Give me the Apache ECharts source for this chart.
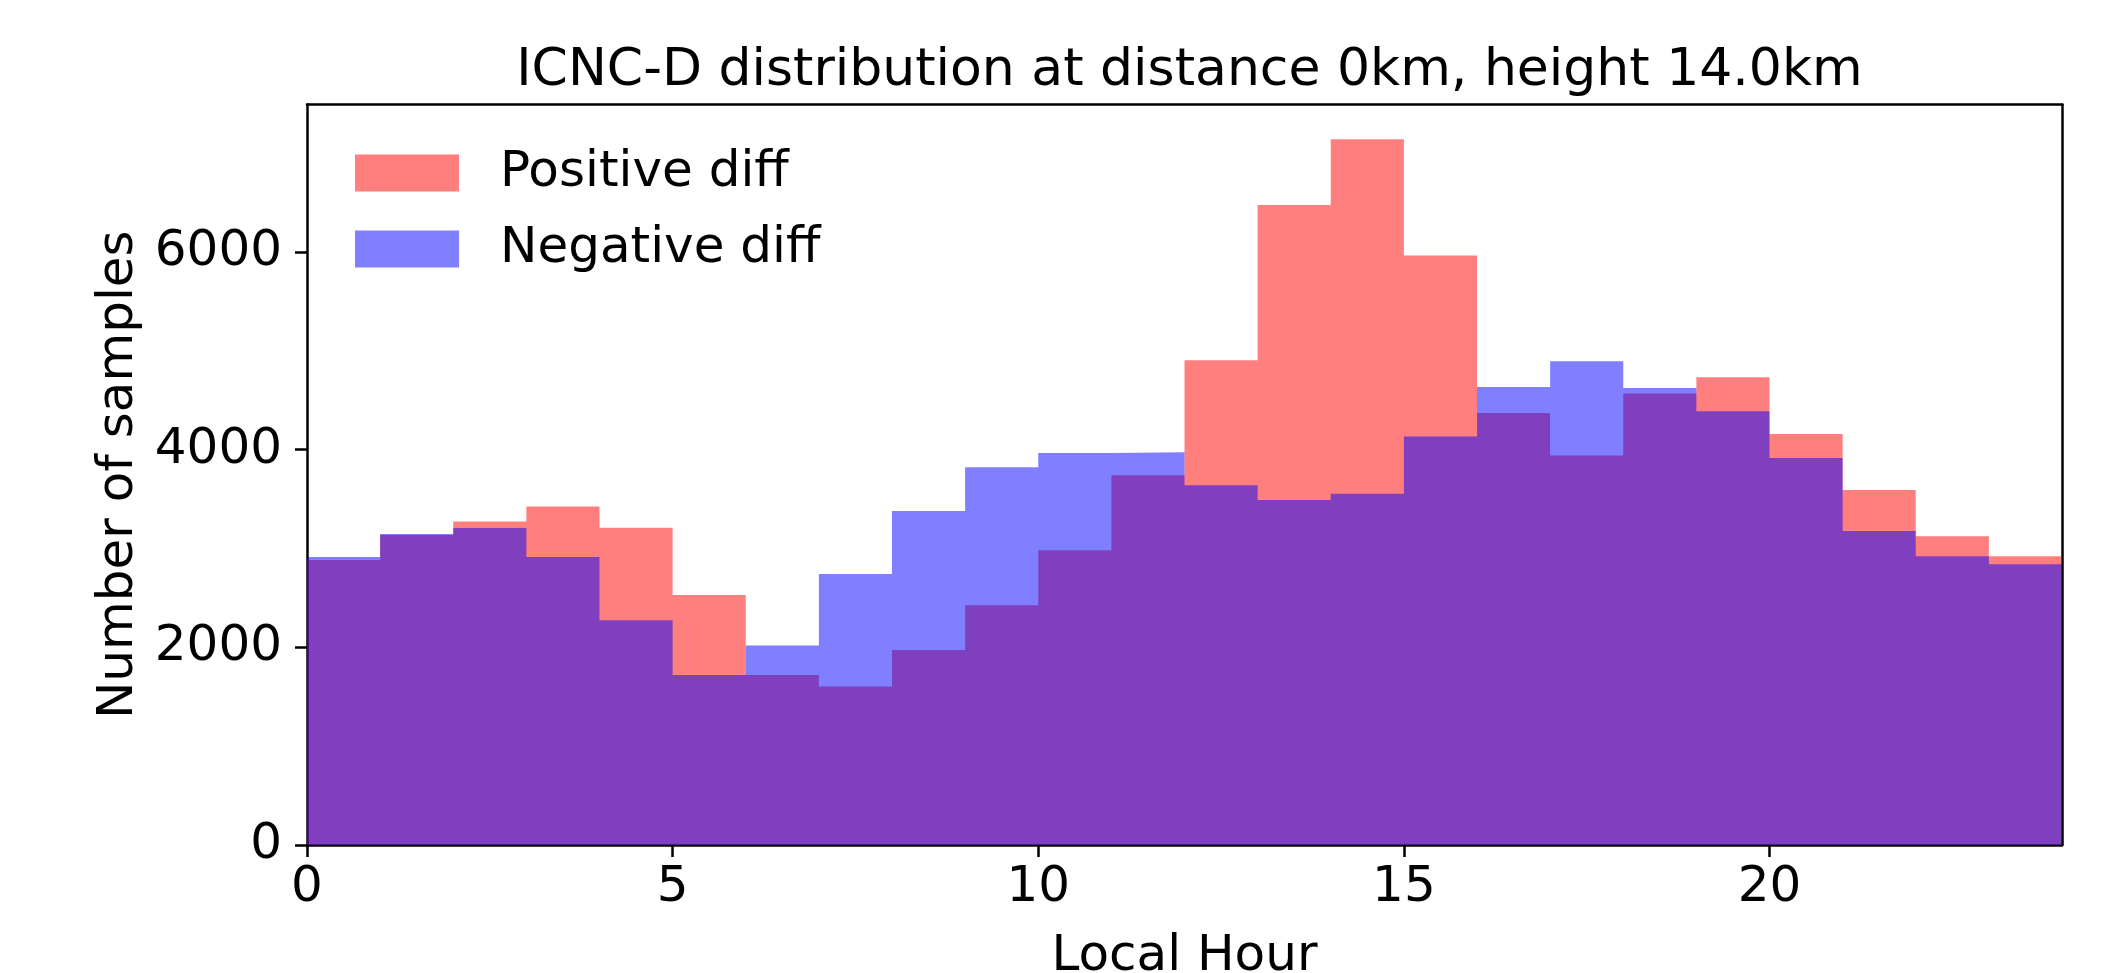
<!DOCTYPE html>
<html>
<head>
<meta charset="utf-8">
<script src="https://cdn.jsdelivr.net/npm/echarts@6/dist/echarts.min.js"></script>
<style>
    html, body { margin: 0; padding: 0; background: #fff; }
    #chart { width: 2102px; height: 973px; }
</style>
</head>
<body>
<div id="chart"></div>
<script>
// 直方图数据（按小时分箱）
const hourEdges = [0, 1, 2, 3, 4, 5, 6, 7, 8, 9, 10, 11, 12, 13, 14, 15, 16, 17, 18, 19, 20, 21, 22, 23, 24]
const positiveDiff = [2883, 3136, 3271, 3423, 3210, 2529, 1720, 1602, 1973, 2424, 2981, 3740, 4903, 6474, 7139, 5962, 4370, 3939, 4566, 4731, 4158, 3591, 3123, 2920]
const negativeDiff = [2913, 3146, 3207, 2913, 2273, 1720, 2017, 2741, 3379, 3821, 3966, 3973, 3639, 3490, 3554, 4131, 4633, 4893, 4623, 4387, 3915, 3176, 2920, 2840]
const xTicks = [0, 5, 10, 15, 20]
const yTicks = [0, 2000, 4000, 6000]

const FONT = 'DejaVu Sans'

// 把每个箱子的值变成阶梯线的点，最后一个边界沿用最后一个值
function steps(values) {
    return hourEdges.map((e, i) => [e, values[Math.min(i, values.length - 1)]])
}

function histChart() {
    const el = document.querySelector('#chart')
    const myChart = echarts.init(el)
    const borderAxis = {
        axisLine: { show: true, onZero: false, lineStyle: { color: '#000', width: 2.5 } },
        axisTick: { show: false },
        axisLabel: { show: false },
        splitLine: { show: false }
    }
    const option = {
        backgroundColor: '#fff',
        animation: false,
        title: {
            text: 'ICNC-D distribution at distance 0km, height 14.0km',
            left: 1184.5,
            textAlign: 'center',
            top: 40,
            textStyle: { fontFamily: FONT, fontSize: 52, fontWeight: 'normal', color: '#000' }
        },
        legend: {
            orient: 'vertical',
            left: 350,
            top: 143,
            icon: 'rect',
            itemWidth: 104,
            itemHeight: 37,
            itemGap: 26,
            textStyle: { fontFamily: FONT, fontSize: 50, color: '#000', lineHeight: 50, padding: [0, 0, 0, 36] },
            data: [
                { name: 'Positive diff', itemStyle: { color: 'rgba(255,0,0,0.5)' } },
                { name: 'Negative diff', itemStyle: { color: 'rgba(0,0,255,0.5)' } }
            ]
        },
        // 固定绘图区，不让 v6 自动收缩
        grid: { left: 307, right: 40, top: 104.5, bottom: 128, outerBoundsMode: 'none', containLabel: false },
        xAxis: [
            {
                type: 'value',
                min: 0,
                max: 24,
                name: 'Local Hour',
                nameLocation: 'middle',
                nameGap: 87,
                nameTextStyle: { fontFamily: FONT, fontSize: 50, color: '#000' },
                axisLine: { show: true, onZero: false, lineStyle: { color: '#000', width: 2.5 } },
                axisTick: { show: true, length: 12, lineStyle: { color: '#000', width: 2.5 }, customValues: xTicks },
                axisLabel: { fontFamily: FONT, fontSize: 50, color: '#000', margin: 18, customValues: xTicks },
                splitLine: { show: false }
            },
            Object.assign({ type: 'value', min: 0, max: 24, position: 'top' }, borderAxis)
        ],
        yAxis: [
            {
                type: 'value',
                min: 0,
                max: 7490,
                name: 'Number of samples',
                nameLocation: 'middle',
                nameRotate: 90,
                nameGap: 157,
                nameTextStyle: { fontFamily: FONT, fontSize: 50, color: '#000' },
                axisLine: { show: true, lineStyle: { color: '#000', width: 2.5 } },
                axisTick: { show: true, length: 12, lineStyle: { color: '#000', width: 2.5 }, customValues: yTicks },
                axisLabel: {
                    fontFamily: FONT, fontSize: 50, color: '#000', margin: 25, customValues: yTicks,
                    formatter: v => String(v)
                },
                splitLine: { show: false }
            },
            Object.assign({ type: 'value', min: 0, max: 7490, position: 'right' }, borderAxis)
        ],
        series: [
            {
                name: 'Positive diff',
                type: 'line',
                step: 'end',
                showSymbol: false,
                symbol: 'none',
                itemStyle: { color: 'rgba(255,0,0,0.5)' },
                lineStyle: { width: 0, opacity: 0 },
                areaStyle: { color: 'rgba(255,0,0,0.5)', opacity: 1, origin: 'start' },
                data: steps(positiveDiff),
                z: 2
            },
            {
                name: 'Negative diff',
                type: 'line',
                step: 'end',
                showSymbol: false,
                symbol: 'none',
                itemStyle: { color: 'rgba(0,0,255,0.5)' },
                lineStyle: { width: 0, opacity: 0 },
                areaStyle: { color: 'rgba(0,0,255,0.5)', opacity: 1, origin: 'start' },
                data: steps(negativeDiff),
                z: 3
            }
        ]
    }
    myChart.setOption(option)
}
histChart()
</script>
</body>
</html>
